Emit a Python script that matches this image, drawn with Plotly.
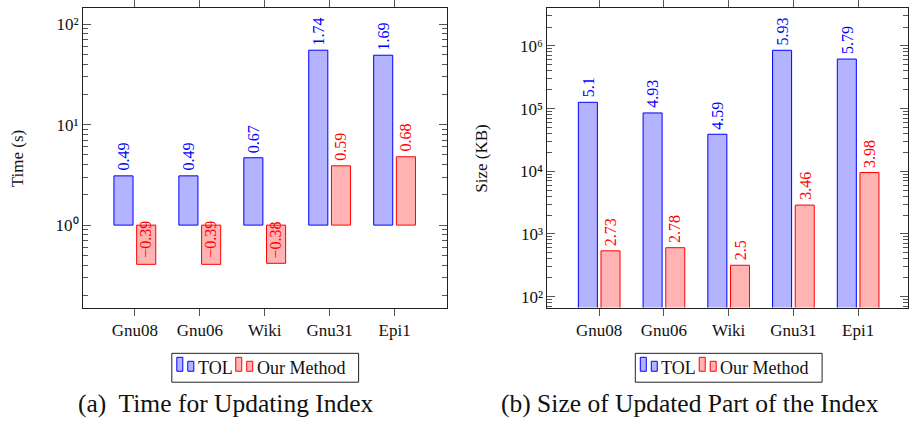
import plotly.graph_objects as go

# ---------------- data ----------------
categories = ["Gnu08", "Gnu06", "Wiki", "Gnu31", "Epi1"]
series_names = ["TOL", "Our Method"]

# values are given as log10 (as labelled in the chart)
time_tol_log = [0.49, 0.49, 0.67, 1.74, 1.69]
time_our_log = [-0.39, -0.39, -0.38, 0.59, 0.68]
size_tol_log = [5.1, 4.93, 4.59, 5.93, 5.79]
size_our_log = [2.73, 2.78, 2.5, 3.46, 3.98]

time_tick_vals = [1, 10, 100]
time_tick_text = ["10\u2070", "10\u00b9", "10\u00b2"]
size_tick_vals = [1e2, 1e3, 1e4, 1e5, 1e6]
size_tick_text = ["10\u00b2", "10\u00b3", "10\u2074", "10\u2075", "10\u2076"]

axis_titles = ["Time (s)", "Size (KB)"]
captions = ["(a)  Time for Updating Index", "(b) Size of Updated Part of the Index"]

# ---------------- style ----------------
W, H = 909, 426
FONT = "Liberation Serif"
BLUE, BLUE_FILL = "#0000FF", "#B3B3FF"
RED, RED_FILL = "#FF0000", "#FFB3B3"
LINE = "#222222"
TICK = "#555555"

TIME_RANGE = [-0.82, 2.16]
SIZE_RANGE = [1.825, 6.605]


def X(px):
    return px / W


def Y(py):
    return 1 - py / H


def minor_vals(rng):
    lo, hi = rng
    out = []
    for e in range(int(lo) - 2, int(hi) + 2):
        for m in range(2, 10):
            v = m * 10.0 ** e
            if 10 ** lo <= v <= 10 ** hi:
                out.append(v)
    return out


fig = go.Figure()

# left panel: bars drawn from 10^0
fig.add_trace(go.Bar(x=categories, y=[10 ** v - 1 for v in time_tol_log], base=1,
                     name=series_names[0], marker=dict(color=BLUE_FILL, line=dict(color=BLUE, width=1)),
                     xaxis="x", yaxis="y", showlegend=False))
fig.add_trace(go.Bar(x=categories, y=[10 ** v - 1 for v in time_our_log], base=1,
                     name=series_names[1], marker=dict(color=RED_FILL, line=dict(color=RED, width=1)),
                     xaxis="x", yaxis="y", showlegend=False))
# right panel: bars from the bottom
fig.add_trace(go.Bar(x=categories, y=[10 ** v for v in size_tol_log],
                     name=series_names[0], marker=dict(color=BLUE_FILL, line=dict(color=BLUE, width=1)),
                     xaxis="x2", yaxis="y2", showlegend=False))
fig.add_trace(go.Bar(x=categories, y=[10 ** v for v in size_our_log],
                     name=series_names[1], marker=dict(color=RED_FILL, line=dict(color=RED, width=1)),
                     xaxis="x2", yaxis="y2", showlegend=False))

ydom = [Y(307), Y(6)]
xcommon = dict(type="category", showline=True, linecolor=LINE, linewidth=1, mirror="ticks",
               ticks="outside", ticklen=7, tickcolor=TICK, showgrid=False, zeroline=False,
               tickfont=dict(family=FONT, size=17, color="#111"))
ycommon = dict(type="log", showline=True, linecolor=LINE, linewidth=1, mirror="ticks",
               ticks="inside", ticklen=8, tickcolor=TICK, showgrid=False, zeroline=False,
               tickmode="array", tickfont=dict(family=FONT, size=17, color="#111"))

fig.update_layout(
    width=W, height=H, margin=dict(l=0, r=0, t=0, b=0),
    paper_bgcolor="white", plot_bgcolor="white",
    barmode="group", bargap=0.3, bargroupgap=0.16,
    xaxis=dict(xcommon, domain=[X(83), X(447)], range=[-0.8, 4.8], anchor="y"),
    yaxis=dict(ycommon, domain=ydom, range=TIME_RANGE, anchor="x",
               tickvals=time_tick_vals, ticktext=time_tick_text,
               minor=dict(tickvals=minor_vals(TIME_RANGE), ticks="inside", ticklen=5, tickcolor=TICK)),
    xaxis2=dict(xcommon, domain=[X(548), 1.0], range=[-0.8, 4.77], anchor="y2"),
    yaxis2=dict(ycommon, domain=ydom, range=SIZE_RANGE, anchor="x2",
                tickvals=size_tick_vals, ticktext=size_tick_text,
                minor=dict(tickvals=minor_vals(SIZE_RANGE), ticks="inside", ticklen=5, tickcolor=TICK)),
)

annotations = []
shapes = []
OFF = 11.25

# value labels
def add_labels(xref, yref, logs, shift, color):
    for c, v in zip(categories, logs):
        if v >= 0:
            annotations.append(dict(x=c, y=v, xref=xref, yref=yref, text=f"{v:g}", showarrow=False,
                                    textangle=-90, xanchor="center", yanchor="bottom", xshift=shift, yshift=3,
                                    font=dict(family=FONT, size=16, color=color)))
        else:
            annotations.append(dict(x=c, y=0, xref=xref, yref=yref, text="\u2212" + f"{-v:g}", showarrow=False,
                                    textangle=-90, xanchor="center", yanchor="top", xshift=shift, yshift=6,
                                    font=dict(family=FONT, size=16, color=color)))

add_labels("x", "y", time_tol_log, -OFF, BLUE)
add_labels("x", "y", time_our_log, OFF, RED)
add_labels("x2", "y2", size_tol_log, -OFF, BLUE)
add_labels("x2", "y2", size_our_log, OFF, RED)

# axis titles
for title, cx in zip(axis_titles, [17, 482]):
    annotations.append(dict(x=X(cx), y=Y(157), xref="paper", yref="paper", text=title, showarrow=False,
                            textangle=-90, xanchor="center", yanchor="middle",
                            font=dict(family=FONT, size=17, color="#111")))

# captions
for cap, cx in zip(captions, [226, 691]):
    annotations.append(dict(x=X(cx), y=Y(403), xref="paper", yref="paper", text=cap, showarrow=False,
                            xanchor="center", yanchor="middle",
                            font=dict(family=FONT, size=25.5, color="#111")))

# hand-drawn legends (pgfplots style bar icons)
for dx in [0, 464]:
    shapes.append(dict(type="rect", xref="paper", yref="paper", x0=X(172 + dx), x1=X(359 + dx),
                       y0=Y(382), y1=Y(353), line=dict(color=LINE, width=1), fillcolor="white"))
    for (x0, x1, top), (fill, col) in zip(
            [(177, 183, 357), (188, 194, 361), (236, 242, 357), (247, 253, 361)],
            [(BLUE_FILL, BLUE), (BLUE_FILL, BLUE), (RED_FILL, RED), (RED_FILL, RED)]):
        shapes.append(dict(type="rect", xref="paper", yref="paper", x0=X(x0 + dx), x1=X(x1 + dx),
                           y0=Y(371), y1=Y(top), line=dict(color=col, width=1), fillcolor=fill))
    annotations.append(dict(x=X(196 + dx), y=Y(367.5), xref="paper", yref="paper", text=series_names[0],
                            showarrow=False, xanchor="left", yanchor="middle",
                            font=dict(family=FONT, size=18, color="#111")))
    annotations.append(dict(x=X(255 + dx), y=Y(367.5), xref="paper", yref="paper", text=series_names[1],
                            showarrow=False, xanchor="left", yanchor="middle",
                            font=dict(family=FONT, size=18, color="#111")))

fig.update_layout(annotations=annotations, shapes=shapes)
fig.write_html("out.html", config={"displayModeBar": False},
               post_script="document.body.style.margin='0';")
